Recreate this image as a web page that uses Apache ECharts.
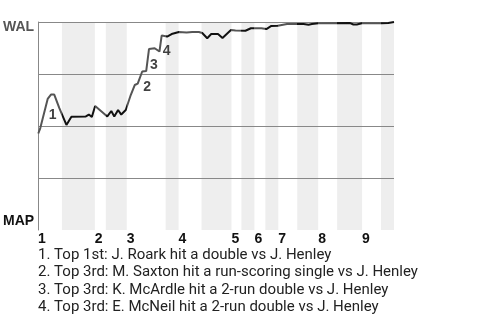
<!DOCTYPE html>
<html>
<head>
<meta charset="utf-8">
<script src="https://cdn.jsdelivr.net/npm/echarts@6/dist/echarts.min.js"></script>
<style>html,body{margin:0;padding:0;background:#fff;}#c{width:480px;height:320px;}</style>
</head>
<body>
<div id="c"></div>
<script>
// ---- data ----
const xMax = 357;
const teamTop = 'WAL';
const teamBottom = 'MAP';
const inningLabels = ['1', '2', '3', '4', '5', '6', '7', '8', '9'];
const inningStarts = [0, 57, 89, 141, 194, 217, 241, 281, 325];
const bottomStarts = [24, 68, 128, 164, 204, 228, 260, 300, 344];
const playX = [0.3, 2.3, 9.7, 13, 16.3, 21.3, 28.5, 33.5, 48, 51, 54, 57.3, 69.5, 73.5, 76.5,
  80.3, 83.5, 88, 93, 97, 100, 101.5, 104.5, 108.5, 111.3, 117, 119, 121.8, 124, 129.5,
  134, 141.3, 149, 154.7, 161.3, 164.7, 169.7, 173.7, 180.5, 185, 193.5, 198, 208, 213.5, 224,
  229, 234, 240.5, 249.7, 256.3, 261.3, 263, 266.3, 271.3, 274.7, 281.3, 313, 316.3, 319.7, 324.7,
  344.7, 351.3, 357];
const winProb = [0.464, 0.490, 0.630, 0.651, 0.651, 0.587, 0.505, 0.545, 0.546, 0.555, 0.543, 0.596, 0.546, 0.572, 0.546,
  0.577, 0.555, 0.577, 0.649, 0.697, 0.704, 0.712, 0.762, 0.764, 0.870, 0.874, 0.875, 0.858, 0.935, 0.930,
  0.942, 0.952, 0.949, 0.952, 0.952, 0.947, 0.922, 0.942, 0.942, 0.923, 0.962, 0.959, 0.958, 0.970, 0.970,
  0.966, 0.981, 0.982, 0.990, 0.990, 0.990, 0.987, 0.990, 0.987, 0.990, 0.994, 0.995, 0.988, 0.988, 0.994,
  0.994, 0.995, 1.0];
const eventX = [9.7, 104.5, 111.3, 124];
const eventY = [0.630, 0.762, 0.870, 0.935];
const eventNotes = [
  '1. Top 1st: J. Roark hit a double vs J. Henley',
  '2. Top 3rd: M. Saxton hit a run-scoring single vs J. Henley',
  '3. Top 3rd: K. McArdle hit a 2-run double vs J. Henley',
  '4. Top 3rd: E. McNeil hit a 2-run double vs J. Henley'
];

// ---- build ----
const topColor = '#555555';
const botColor = '#111111';
const boldFont = 'Liberation Sans';
const pieces = [];
const bands = [];
for (let i = 0; i < inningStarts.length; i++) {
  const nextStart = i + 1 < inningStarts.length ? inningStarts[i + 1] : xMax + 1;
  pieces.push({ gte: inningStarts[i], lt: bottomStarts[i], color: topColor });
  pieces.push({ gte: bottomStarts[i], lt: nextStart, color: botColor });
  bands.push([{ xAxis: bottomStarts[i] }, { xAxis: Math.min(nextStart, xMax) }]);
}
pieces[0].gte = -1;

const chart = echarts.init(document.getElementById('c'), null, { renderer: 'canvas' });
chart.setOption({
  animation: false,
  backgroundColor: '#fff',
  grid: { left: 37, right: 86, top: 22, bottom: 90 },
  xAxis: {
    type: 'value', min: 0, max: xMax, z: 3,
    axisLine: { show: false }, axisTick: { show: false }, splitLine: { show: false },
    axisLabel: {
      customValues: inningStarts,
      formatter: v => inningLabels[inningStarts.indexOf(v)],
      align: 'left', margin: 2,
      fontFamily: boldFont, fontWeight: 'bold', fontSize: 14, color: '#111'
    }
  },
  yAxis: {
    type: 'value', min: 0, max: 1, interval: 0.25, z: 3,
    axisLine: { show: true, lineStyle: { color: '#888', width: 1 } },
    axisTick: { show: false },
    splitLine: { show: true, showMinLine: false, lineStyle: { color: '#888', width: 1 } },
    axisLabel: {
      align: 'left', margin: 35,
      formatter: v => v === 1 ? '{w|' + teamTop + '}' : (v === 0 ? '{m|' + teamBottom + '}' : ''),
      rich: {
        w: { fontFamily: boldFont, fontWeight: 'bold', fontSize: 14, color: topColor, padding: [11, 0, 0, 0] },
        m: { fontFamily: boldFont, fontWeight: 'bold', fontSize: 14, color: botColor, padding: [0, 0, 17, 0] }
      }
    }
  },
  visualMap: { show: false, type: 'piecewise', dimension: 0, seriesIndex: 0, pieces: pieces },
  series: [
    {
      type: 'line', z: 5, symbol: 'none', silent: true,
      data: playX.map((x, i) => [x, winProb[i]]),
      lineStyle: { width: 2 }
    },
    {
      type: 'scatter', z: 5, symbolSize: 0, silent: true,
      data: eventX.map((x, i) => [x, eventY[i]]),
      label: {
        show: true, position: 'inside', offset: [5, 16],
        formatter: p => String(p.dataIndex + 1),
        fontFamily: boldFont, fontWeight: 'bold', fontSize: 14, color: '#111'
      }
    },
    {
      type: 'scatter', z: 1, symbolSize: 0, silent: true,
      data: [[0, 0]],
      markArea: { silent: true, itemStyle: { color: '#eeeeee' }, data: bands }
    }
  ],
  graphic: [{
    type: 'text', left: 38, top: 246, silent: true,
    style: {
      text: eventNotes.join('\n'),
      fontFamily: 'Roboto', fontSize: 15, lineHeight: 17.6, fill: '#222'
    }
  }]
});
</script>
</body>
</html>
